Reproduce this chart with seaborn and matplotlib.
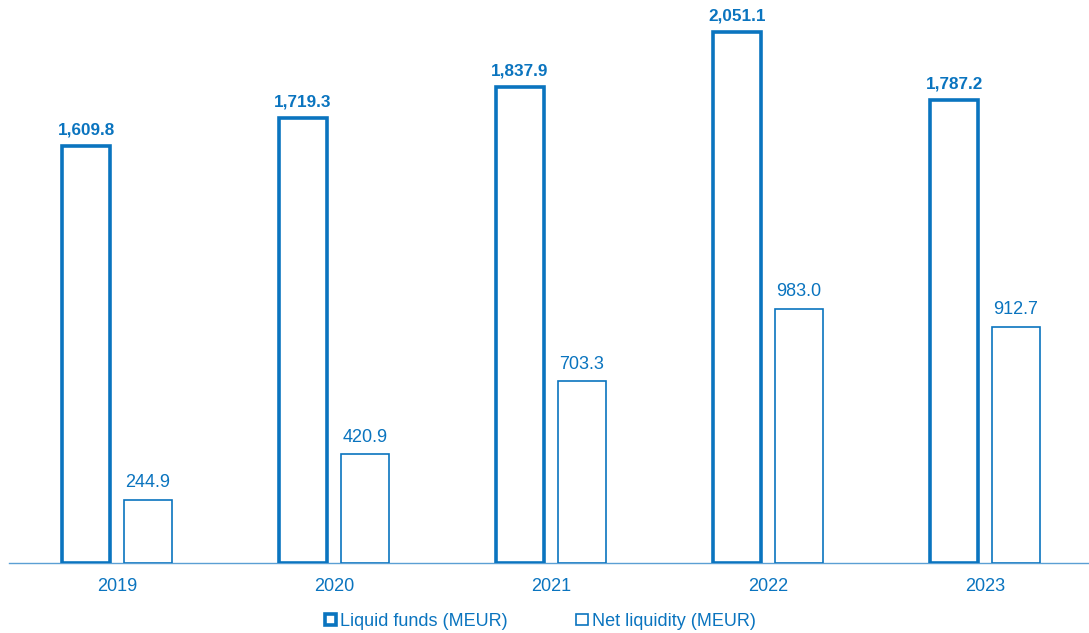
import matplotlib.pyplot as plt
import pandas as pd
import seaborn as sns
from matplotlib.patches import Patch

years = ["2019", "2020", "2021", "2022", "2023"]
liquid_funds = [1609.8, 1719.3, 1837.9, 2051.1, 1787.2]
net_liquidity = [244.9, 420.9, 703.3, 983.0, 912.7]
series = ["Liquid funds (MEUR)", "Net liquidity (MEUR)"]

blue = "#0a74bf"
axis_blue = "#5b9fd4"

df = pd.DataFrame({
    "year": years * 2,
    "value": liquid_funds + net_liquidity,
    "series": [series[0]] * len(years) + [series[1]] * len(years),
})

sns.set_style("white")
plt.rcParams["font.family"] = ["Liberation Sans", "DejaVu Sans"]

fig = plt.figure(figsize=(10.89, 6.33), dpi=100)
ax = fig.add_axes([8.5 / 1089, 70 / 633, 1085 / 1089, 563 / 633])

sns.barplot(
    data=df, x="year", y="value", hue="series", order=years, hue_order=series,
    palette=[blue, blue], width=0.571, gap=0.227, fill=False, legend=False,
    err_kws={"linewidth": 0}, ax=ax,
)

widths = {0: 2.6, 1: 1.2}
for i, container in enumerate(ax.containers):
    for bar in container:
        bar.set_facecolor("white")
        bar.set_edgecolor(blue)
        bar.set_linewidth(widths[i])
        bar.set_joinstyle("miter")
    ax.bar_label(
        container,
        labels=[f"{v:,.1f}" for v in container.datavalues],
        padding=6, color=blue,
        fontsize=12.3 if i == 0 else 13,
        fontweight="bold" if i == 0 else "normal",
    )

ax.set_xlim(-0.5, 4.5)
ax.set_ylim(0, 563 / 0.2589)
ax.set_xlabel("")
ax.set_ylabel("")
ax.set_yticks([])
for side in ["top", "right", "left"]:
    ax.spines[side].set_visible(False)
ax.spines["bottom"].set_color(axis_blue)
ax.spines["bottom"].set_linewidth(1.0)
ax.spines["bottom"].set_zorder(0)
ax.tick_params(axis="x", length=0, pad=10.5, labelsize=13, labelcolor=blue)

handles = [
    Patch(facecolor="white", edgecolor=blue, linewidth=2.6),
    Patch(facecolor="white", edgecolor=blue, linewidth=1.2),
]
fig.legend(
    handles, series, loc="center", bbox_to_anchor=(540 / 1089, 1 - 621 / 633),
    ncol=2, frameon=False, handlelength=0.65, handleheight=0.55,
    handletextpad=0.2, columnspacing=3.8, labelcolor=blue, fontsize=13,
)

fig.savefig("out.png", dpi=100)
